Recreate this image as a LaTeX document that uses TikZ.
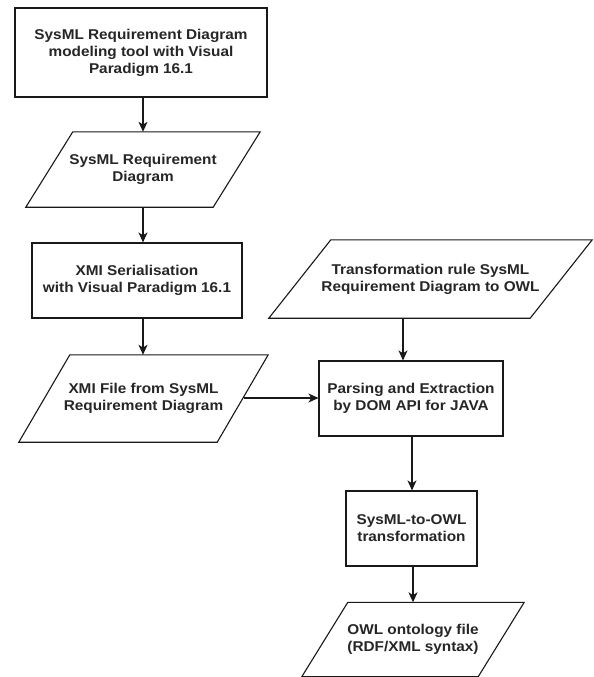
\documentclass[tikz,border=0pt]{standalone}
\usepackage{fontspec}
\setmainfont{Liberation Sans}[FakeStretch=1.08]
\usetikzlibrary{arrows.meta,calc}

\tikzset{
  lbl/.style={font=\bfseries\fontsize{14.2}{17}\selectfont, align=center,
              text=black!85, inner sep=0pt},
  procbox/.style={lbl, draw=black!90, line width=1.1pt, rectangle},
  iobox/.style={lbl, rectangle},
  ioline/.style={draw=black!90, line width=1.1pt, line join=miter},
  flow/.style={draw=black!90, line width=1.1pt,
               -{Stealth[length=10pt,width=9pt,inset=2.8pt]}}
}

% draws the slanted outline of an input/output node; #2 is the horizontal offset
\newcommand{\ioshape}[2]{%
  \draw[ioline] ($(#1.north west)+(#2,0)$) -- (#1.north east)
    -- ($(#1.south east)-(#2,0)$) -- (#1.south west) -- cycle;}

\begin{document}
\begin{tikzpicture}[x=1pt,y=-1pt]
\useasboundingbox[fill=white] (0,0) rectangle (594,677);

% left column
\node[procbox, minimum width=252, minimum height=89] (model) at (141,52.5)
  {SysML Requirement Diagram\\modeling tool with Visual\\Paradigm 16.1};
\node[iobox, minimum width=234, minimum height=75] (req) at (143,169.5)
  {SysML Requirement\\Diagram};
\ioshape{req}{47}
\node[procbox, minimum width=210, minimum height=75] (ser) at (137,280.5)
  {XMI Serialisation\\with Visual Paradigm 16.1};
\node[iobox, minimum width=249, minimum height=87] (xmi) at (143.5,398.5)
  {XMI File from SysML\\Requirement Diagram};
\ioshape{xmi}{51}

% right column
\node[iobox, minimum width=323, minimum height=78] (rule) at (430.5,279)
  {Transformation rule SysML\\Requirement Diagram to OWL};
\ioshape{rule}{62}
\node[procbox, minimum width=184, minimum height=75] (parse) at (411,398.5)
  {Parsing and Extraction\\by DOM API for JAVA};
\node[procbox, minimum width=131, minimum height=75] (trans) at (411.5,528.5)
  {SysML-to-OWL\\transformation};
\node[iobox, minimum width=222, minimum height=74] (owl) at (413,639.5)
  {OWL ontology file\\(RDF/XML syntax)};
\ioshape{owl}{46}

% point on the slanted right side of the XMI file node
\coordinate (xmiR) at (244,398);

% connectors
\draw[flow] (model.south -| 143,0) -- (req.north -| 143,0);
\draw[flow] (req.south -| 143,0) -- (ser.north -| 143,0);
\draw[flow] (ser.south -| 143,0) -- (xmi.north -| 143,0);
\draw[flow] (xmiR) -- (xmiR -| parse.west);
\draw[flow] (rule.south -| 403,0) -- (parse.north -| 403,0);
\draw[flow] (parse.south -| 412,0) -- (trans.north -| 412,0);
\draw[flow] (trans.south -| 413,0) -- (owl.north -| 413,0);
\end{tikzpicture}
\end{document}
